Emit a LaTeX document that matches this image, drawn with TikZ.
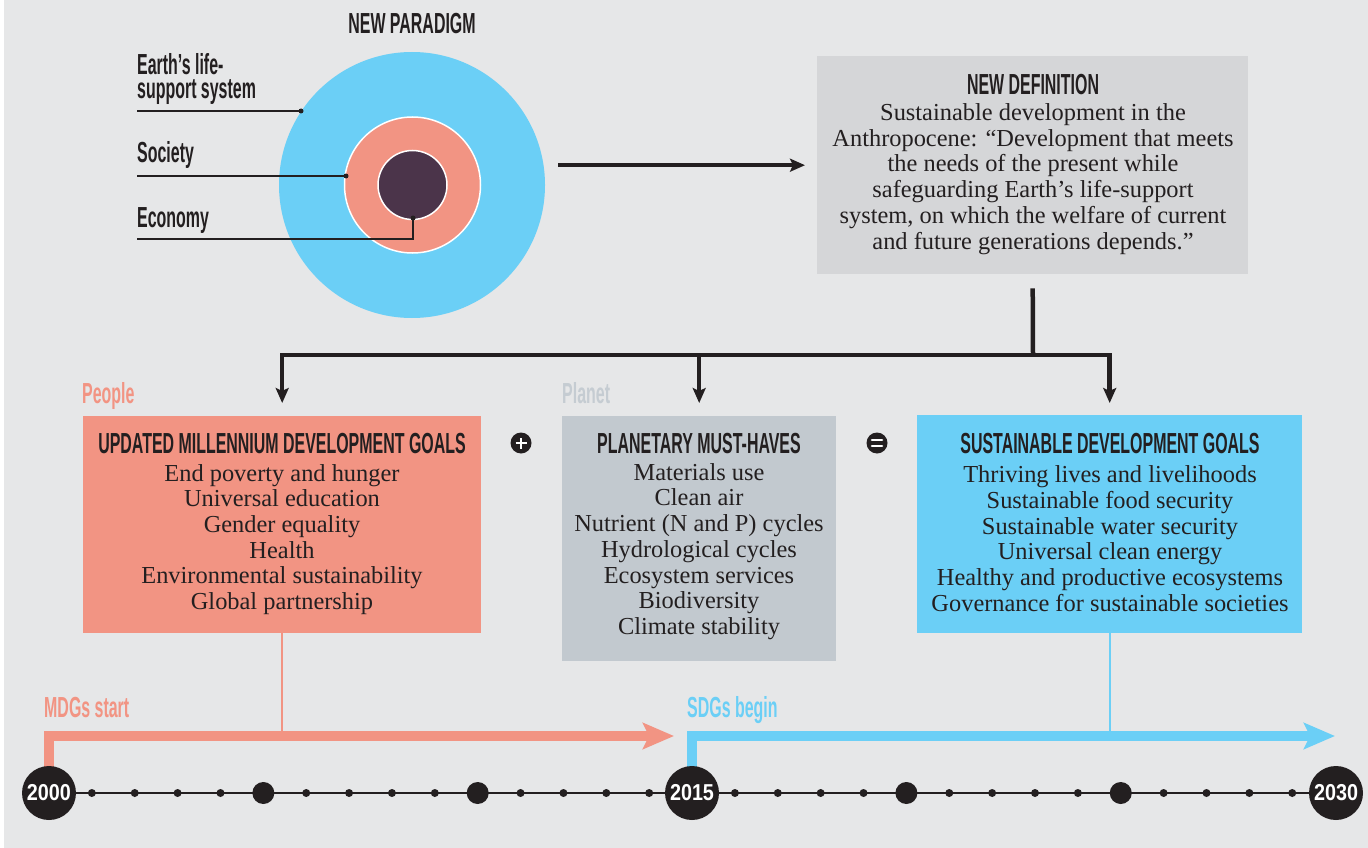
\documentclass[tikz,border=0pt]{standalone}
\usepackage{fontspec}
\setmainfont{Liberation Serif}
\newfontfamily\hdfont[FakeStretch=0.55]{Liberation Sans}
\newfontfamily\yrfont[FakeStretch=0.86]{Liberation Sans}
\usetikzlibrary{arrows.meta}
\definecolor{bgc}{HTML}{E6E7E8}
\definecolor{bluec}{HTML}{6BCFF6}
\definecolor{salmonc}{HTML}{F29483}
\definecolor{darkc}{HTML}{231F20}
\definecolor{purplec}{HTML}{4B344A}
\definecolor{defc}{HTML}{D5D6D8}
\definecolor{planc}{HTML}{C2C9CF}
\definecolor{planetc}{HTML}{C5CCD2}
\begin{document}
\begin{tikzpicture}[x=1pt,y=-1pt,
  hd/.style={font=\hdfont\bfseries\fontsize{29}{29}\selectfont, inner sep=0, text=darkc},
  lbl/.style={font=\hdfont\bfseries\fontsize{29}{25.5}\selectfont, inner sep=0, text=darkc, anchor=base west},
  body/.style={font=\fontsize{24.4}{25.7}\selectfont, align=center, inner sep=0, text=darkc},
  panel/.style={anchor=north west, inner sep=0, draw=none},
  conn/.style={line width=4.5pt, draw=darkc, line join=miter},
  tip/.style={-{Stealth[length=15pt,width=13pt,inset=3pt]}},
  leader/.style={line width=1.3pt, draw=darkc},
  ldot/.style={circle, fill=darkc, inner sep=0, minimum size=5pt},
  yr/.style={circle, fill=darkc, minimum size=54pt, inner sep=0, text=white,
    font=\yrfont\bfseries\fontsize{23}{23}\selectfont},
  sign/.style={circle, fill=darkc, minimum size=21pt, inner sep=0},
  band/.style={line width=10pt, line join=miter,
    -{Stealth[length=31pt,width=26pt,inset=6pt]}}
]
\useasboundingbox (0,0) rectangle (1368,848);
\fill[white] (0,0) rectangle (1368,848);
\fill[bgc] (4,0) rectangle (1368,848);

% ---------- paradigm circles ----------
\node[hd] (paradigm) at (412,23.5) {NEW PARADIGM};
\node[circle, fill=bluec, minimum size=266pt, inner sep=0] (outer) at (412,185) {};
\node[circle, fill=salmonc, draw=white, line width=1.5pt, minimum size=136pt, inner sep=0] (mid) at (412.5,185) {};
\node[circle, fill=purplec, draw=white, line width=1.5pt, minimum size=69pt, inner sep=0] (inner) at (412.5,185) {};

\node[lbl] (earthlblA) at (137,75) {Earth’s life-};
\node[lbl] (earthlblB) at (137,99) {support system};
\node[lbl] (soclbl) at (137,163) {Society};
\node[lbl] (ecolbl) at (137,227) {Economy};

\coordinate (eStart) at (137,111);
\coordinate (sStart) at (137,176);
\coordinate (cStart) at (137,239);
\node[ldot] (eDot) at (301,111) {};
\node[ldot] (sDot) at (346,176) {};
\node[ldot] (cDot) at (413,218) {};
\draw[leader] (eStart) -- (eDot.center);
\draw[leader] (sStart) -- (sDot.center);
\draw[leader] (cStart) -| (cDot.center);

% ---------- definition ----------
\node[panel, fill=defc, minimum width=431pt, minimum height=218pt] (def) at (817,56) {};
\node[hd] (deftitle) at (1033,85) {NEW DEFINITION};
\node[body] (deftext) at (1033,179) {Sustainable development in the\\
Anthropocene: “Development that meets\\
the needs of the present while\\
safeguarding Earth’s life-support\\
system, on which the welfare of current\\
and future generations depends.”};

\draw[conn, tip] ([xshift=13pt]def.west -| outer.east) -- ([xshift=-12pt]def.west);

% ---------- three panels ----------
\node[panel, fill=salmonc, minimum width=398pt, minimum height=217pt] (mdg) at (83,416) {};
\node[panel, fill=planc, minimum width=274pt, minimum height=245pt] (plan) at (562,416) {};
\node[panel, fill=bluec, minimum width=385pt, minimum height=218pt] (sdg) at (917,415) {};

\node[hd, text=salmonc, anchor=base west] (people) at (82,403) {People};
\node[hd, text=planetc, anchor=base west] (planet) at (562,403) {Planet};

\node[hd] (mdgtitle) at (282,443.5) {UPDATED MILLENNIUM DEVELOPMENT GOALS};
\node[body] (mdgtext) at (282,539.5) {End poverty and hunger\\
Universal education\\
Gender equality\\
Health\\
Environmental sustainability\\
Global partnership};

\node[hd] (plantitle) at (699,443.5) {PLANETARY MUST-HAVES};
\node[body] (plantext) at (699,551.5) {Materials use\\
Clean air\\
Nutrient (N and P) cycles\\
Hydrological cycles\\
Ecosystem services\\
Biodiversity\\
Climate stability};

\node[hd] (sdgtitle) at (1110,443.5) {SUSTAINABLE DEVELOPMENT GOALS};
\node[body] (sdgtext) at (1110,538.5) {Thriving lives and livelihoods\\
Sustainable food security\\
Sustainable water security\\
Universal clean energy\\
Healthy and productive ecosystems\\
Governance for sustainable societies};

\node[sign] (plus) at (521,443) {};
\draw[white, line width=2.6pt] ([xshift=-5.5pt]plus.center) -- ([xshift=5.5pt]plus.center);
\draw[white, line width=2.6pt] ([yshift=-5.5pt]plus.center) -- ([yshift=5.5pt]plus.center);
\node[sign] (equals) at (877,443) {};
\draw[white, line width=2.6pt, line cap=round] ([xshift=-5pt,yshift=3pt]equals.center) -- ([xshift=5pt,yshift=3pt]equals.center);
\draw[white, line width=2.6pt, line cap=round] ([xshift=-5pt,yshift=-3pt]equals.center) -- ([xshift=5pt,yshift=-3pt]equals.center);

% ---------- connectors ----------
\coordinate (hub) at (1033,355);
\draw[conn] ([yshift=-14pt]def.south) -- (hub);
\draw[conn, tip] (hub) -| ([yshift=13pt]mdg.north);
\draw[conn, tip] (hub) -| ([yshift=12pt]sdg.north);
\draw[conn, tip] (hub -| plan.north) -- ([yshift=13pt]plan.north);

% ---------- timeline ----------
\coordinate (c2000) at (49,793);
\coordinate (c2015) at (692,793);
\coordinate (c2030) at (1336,793);
\coordinate (mdgEnd) at (674,736);
\coordinate (sdgEnd) at (1335,736);

\draw[salmonc, line width=2pt] (mdg.south) -- (mdg.south |- mdgEnd);
\draw[bluec, line width=2pt] (sdg.south) -- (sdg.south |- sdgEnd);
\draw[band, salmonc] (c2000) |- (mdgEnd);
\draw[band, bluec] (c2015) |- (sdgEnd);

\draw[darkc, line width=2.2pt] (c2000) -- (c2030);
\foreach \i in {1,2,3,4,6,7,8,9,11,12,13,14,16,17,18,19,21,22,23,24,26,27,28,29}
  \fill[darkc] (49+42.87*\i,793) circle (4pt);
\foreach \i in {5,10,20,25}
  \fill[darkc] (49+42.87*\i,793) circle (11pt);

\node[yr] (y2000) at (c2000) {2000};
\node[yr] (y2015) at (c2015) {2015};
\node[yr] (y2030) at (c2030) {2030};

\node[hd, text=salmonc, anchor=base west] (mdgstart) at (44,717) {MDGs start};
\node[hd, text=bluec, anchor=base west] (sdgbegin) at (687,717) {SDGs begin};
\end{tikzpicture}
\end{document}
